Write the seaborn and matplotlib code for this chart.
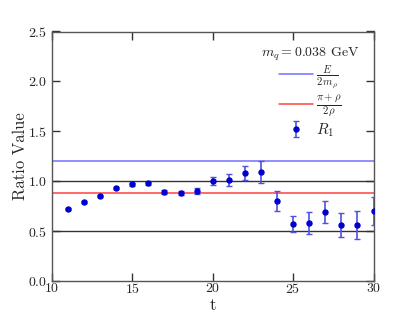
import matplotlib
matplotlib.use("Agg")
import matplotlib.pyplot as plt
import seaborn as sns

# ── Data ──────────────────────────────────────────────────────────────────────
t_vals = [11, 12, 13, 14, 15, 16, 17, 18, 19, 20, 21, 22, 23, 24, 25, 26, 27, 28, 29, 30]
r1_vals = [0.72, 0.79, 0.85, 0.93, 0.97, 0.98, 0.89, 0.88, 0.90, 1.00, 1.01, 1.08, 1.09,
           0.80, 0.57, 0.58, 0.69, 0.56, 0.56, 0.70]
r1_errs = [0.01, 0.01, 0.01, 0.01, 0.015, 0.015, 0.02, 0.02, 0.03, 0.04, 0.06, 0.07, 0.11,
           0.10, 0.08, 0.11, 0.11, 0.12, 0.14, 0.14]

e_ratio = 1.2          # E / (2 m_rho)
pi_rho_ratio = 0.88    # (pi + rho) / (2 rho)
ref_levels = [1.0, 0.5]

sns.set_theme(style="ticks")
plt.rcParams.update({
    "font.family": "serif",
    "font.serif": ["cmr10"],
    "mathtext.fontset": "cm",
    "axes.formatter.use_mathtext": True,
    "font.size": 10,
    "axes.edgecolor": "#555555",
    "axes.linewidth": 1.0,
})

fig, ax = plt.subplots(figsize=(4.15, 3.15), dpi=100)
fig.subplots_adjust(left=0.125, right=0.9, top=0.9, bottom=0.108)

ax.axhline(e_ratio, color="#7070ff", lw=1.1, label=r"$\frac{E}{2\,m_\rho}$")
ax.axhline(pi_rho_ratio, color="#ff4040", lw=1.1, label=r"$\frac{\pi+\rho}{2\,\rho}$")
for lvl in ref_levels:
    ax.axhline(lvl, color="#333333", lw=1.0)

ax.errorbar(t_vals, r1_vals, yerr=r1_errs, fmt="o", ms=3.6, color="#0000cc",
            ecolor="#5050e0", elinewidth=1.2, capsize=2, capthick=1.0,
            label=r"$R_1$", zorder=3)

ax.set_xlim(10, 30)
ax.set_ylim(0, 2.5)
ax.set_xticks([10, 15, 20, 25, 30])
ax.set_yticks([0.0, 0.5, 1.0, 1.5, 2.0, 2.5])
ax.tick_params(direction="in", top=True, right=True, length=6, width=1,
               color="#333333", labelsize=10)
ax.tick_params(axis="x", pad=1)
ax.set_xlabel("t")
ax.xaxis.set_label_coords(0.5, -0.065)
ax.set_ylabel("Ratio Value")
ax.yaxis.set_label_coords(-0.075, 0.5)

leg = ax.legend(loc="upper right", frameon=False, title=r"$m_q = 0.038$ GeV",
                fontsize=11, title_fontsize=10, handlelength=2.2,
                labelspacing=0.1, handletextpad=0.2, borderaxespad=0.5)

fig.savefig("out.png", dpi=100)
